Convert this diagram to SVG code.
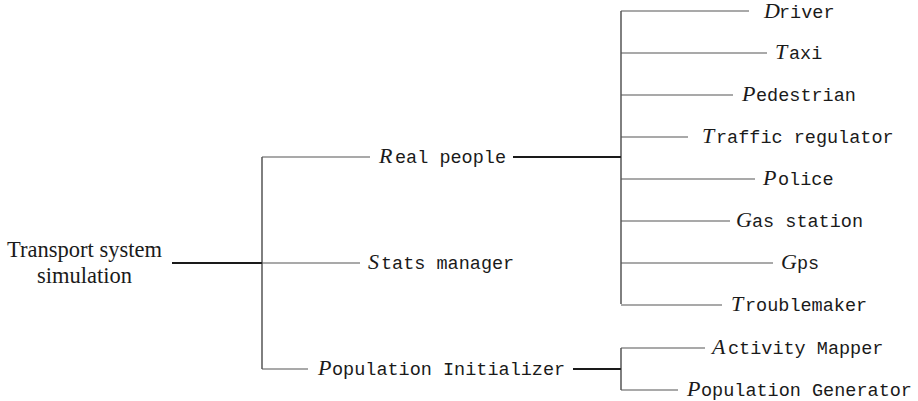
<svg xmlns="http://www.w3.org/2000/svg" width="918" height="401" viewBox="0 0 918 401">
<style>
.bg{fill:#fff}
.tt{font-family:"Liberation Mono","DejaVu Sans Mono",monospace;font-size:18.5px;fill:#1a1a1a}
.cal{font-family:"Liberation Serif","DejaVu Serif",serif;font-style:italic;font-size:22px;fill:#1a1a1a}
.rm{font-family:"Liberation Serif","DejaVu Serif",serif;font-size:22.5px;fill:#1a1a1a}
.thick{stroke:#1a1a1a;stroke-width:2;fill:none}
.vert{stroke:#2a2a2a;stroke-width:1.2;fill:none}
.thin{stroke:#555;stroke-width:1.1;fill:none}
</style>
<rect class="bg" x="0" y="0" width="918" height="401"/>
<g id="connectors">
  <line class="thick" x1="172" y1="263" x2="262" y2="263"/>
  <line class="vert" x1="262" y1="157" x2="262" y2="369"/>
  <line class="thin" x1="262" y1="157" x2="370" y2="157"/>
  <line class="thin" x1="262" y1="263" x2="360" y2="263"/>
  <line class="thin" x1="262" y1="369" x2="308" y2="369"/>
  <line class="thick" x1="513" y1="157" x2="621" y2="157"/>
  <line class="vert" x1="621" y1="11" x2="621" y2="304"/>
  <line class="thin" x1="621" y1="11" x2="749" y2="11"/>
  <line class="thin" x1="621" y1="53" x2="767" y2="53"/>
  <line class="thin" x1="621" y1="95" x2="733" y2="95"/>
  <line class="thin" x1="621" y1="137" x2="688" y2="137"/>
  <line class="thin" x1="621" y1="179" x2="755" y2="179"/>
  <line class="thin" x1="621" y1="221" x2="730" y2="221"/>
  <line class="thin" x1="621" y1="263" x2="773" y2="263"/>
  <line class="thin" x1="621" y1="305" x2="722" y2="305"/>
  <line class="thick" x1="573" y1="369" x2="621" y2="369"/>
  <line class="vert" x1="621" y1="348" x2="621" y2="390"/>
  <line class="thin" x1="621" y1="348" x2="705" y2="348"/>
  <line class="thin" x1="621" y1="390" x2="678" y2="390"/>
</g>
<g id="root">
  <text class="rm" x="84.5" y="256.5" text-anchor="middle">Transport system</text>
  <text class="rm" x="84.5" y="283" text-anchor="middle">simulation</text>
</g>
<g id="real-people">
  <text y="163"><tspan class="cal" x="379">R</tspan><tspan class="tt" x="395">eal people</tspan></text>
</g>
<g id="stats-manager">
  <text y="269"><tspan class="cal" x="368">S</tspan><tspan class="tt" x="381">tats manager</tspan></text>
</g>
<g id="population-initializer">
  <text y="375"><tspan class="cal" x="318">P</tspan><tspan class="tt" x="332">opulation Initializer</tspan></text>
</g>
<g id="driver">
  <text y="18"><tspan class="cal" x="764">D</tspan><tspan class="tt" x="779">river</tspan></text>
</g>
<g id="taxi">
  <text y="59"><tspan class="cal" x="775">T</tspan><tspan class="tt" x="789">axi</tspan></text>
</g>
<g id="pedestrian">
  <text y="101"><tspan class="cal" x="742">P</tspan><tspan class="tt" x="756">edestrian</tspan></text>
</g>
<g id="traffic-regulator">
  <text y="143"><tspan class="cal" x="702">T</tspan><tspan class="tt" x="716">raffic regulator</tspan></text>
</g>
<g id="police">
  <text y="185"><tspan class="cal" x="763">P</tspan><tspan class="tt" x="778">olice</tspan></text>
</g>
<g id="gas-station">
  <text y="227"><tspan class="cal" x="736">G</tspan><tspan class="tt" x="752">as station</tspan></text>
</g>
<g id="gps">
  <text y="269"><tspan class="cal" x="781">G</tspan><tspan class="tt" x="797">ps</tspan></text>
</g>
<g id="troublemaker">
  <text y="311"><tspan class="cal" x="731">T</tspan><tspan class="tt" x="745">roublemaker</tspan></text>
</g>
<g id="activity-mapper">
  <text y="354"><tspan class="cal" x="712">A</tspan><tspan class="tt" x="728">ctivity Mapper</tspan></text>
</g>
<g id="population-generator">
  <text y="396"><tspan class="cal" x="687">P</tspan><tspan class="tt" x="701">opulation Generator</tspan></text>
</g>
</svg>
